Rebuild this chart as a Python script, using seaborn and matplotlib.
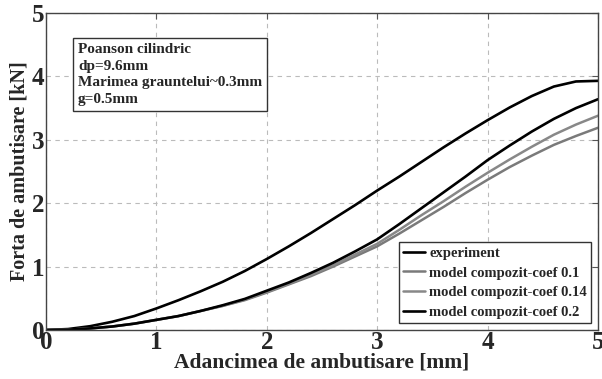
import numpy as np
import pandas as pd
import matplotlib
matplotlib.use("Agg")
import matplotlib.pyplot as plt
import seaborn as sns

# Punch displacement [mm]
depth = [0.0, 0.2, 0.4, 0.6, 0.8, 1.0, 1.2, 1.4, 1.6, 1.8, 2.0, 2.2, 2.4,
         2.6, 2.8, 3.0, 3.2, 3.4, 3.6, 3.8, 4.0, 4.2, 4.4, 4.6, 4.8, 5.0]

# Punch force [kN]
experiment = [0, 0.015, 0.06, 0.13, 0.22, 0.34, 0.47, 0.61, 0.76, 0.93, 1.12,
              1.32, 1.53, 1.75, 1.97, 2.20, 2.42, 2.65, 2.88, 3.10, 3.31,
              3.51, 3.69, 3.84, 3.92, 3.93]
coef_01 = [0, 0.005, 0.025, 0.055, 0.10, 0.16, 0.22, 0.30, 0.38, 0.47, 0.59,
           0.72, 0.85, 1.00, 1.16, 1.32, 1.52, 1.73, 1.94, 2.16, 2.37,
           2.57, 2.75, 2.92, 3.06, 3.19]
coef_014 = [0, 0.005, 0.025, 0.055, 0.10, 0.16, 0.22, 0.30, 0.38, 0.48, 0.60,
            0.73, 0.87, 1.02, 1.19, 1.36, 1.58, 1.81, 2.03, 2.26, 2.48,
            2.69, 2.89, 3.08, 3.24, 3.38]
coef_02 = [0, 0.005, 0.025, 0.055, 0.10, 0.16, 0.22, 0.30, 0.39, 0.49, 0.62,
           0.75, 0.90, 1.06, 1.24, 1.43, 1.67, 1.92, 2.17, 2.42, 2.68,
           2.91, 3.13, 3.33, 3.50, 3.64]

series_names = ["experiment", "model compozit-coef 0.1",
                "model compozit-coef 0.14", "model compozit-coef 0.2"]
series_values = [experiment, coef_01, coef_014, coef_02]

x_ticks = [0, 1, 2, 3, 4, 5]
y_ticks = [0, 1, 2, 3, 4, 5]

info_text = "Poanson cilindric\ndp=9.6mm\nMarimea grauntelui~0.3mm\ng=0.5mm"

df = pd.concat(
    [pd.DataFrame({"depth": depth, "force": vals, "series": name})
     for name, vals in zip(series_names, series_values)],
    ignore_index=True,
)

sns.set_style("white")
plt.rcParams["font.family"] = ["Liberation Serif", "DejaVu Serif"]
plt.rcParams["font.weight"] = "bold"

fig = plt.figure(figsize=(6.02, 3.79), dpi=100)
ax = fig.add_axes([0.0764, 0.1293, 0.917, 0.8364])

palette = {
    "experiment": "#000000",
    "model compozit-coef 0.1": "#7a7a7a",
    "model compozit-coef 0.14": "#888888",
    "model compozit-coef 0.2": "#000000",
}
widths = {
    "experiment": 1.9,
    "model compozit-coef 0.1": 1.8,
    "model compozit-coef 0.14": 1.8,
    "model compozit-coef 0.2": 1.9,
}

for name in series_names:
    sub = df[df["series"] == name]
    sns.lineplot(data=sub, x="depth", y="force", ax=ax, color=palette[name],
                 linewidth=widths[name], label=name, estimator=None, sort=True)

ax.set_xlim(0, 5)
ax.set_ylim(0, 5)
ax.set_xticks(x_ticks)
ax.set_yticks(y_ticks)
ax.set_xticklabels([str(t) for t in x_ticks], fontsize=18, fontweight="bold")
ax.set_yticklabels([str(t) for t in y_ticks], fontsize=18, fontweight="bold")
ax.tick_params(direction="in", length=4, width=0.8, top=True, right=True,
               pad=1, color="#555555")
ax.grid(True, linestyle=(0, (4, 4)), color="#bbbbbb", linewidth=0.8)

ax.set_xlabel("Adancimea de ambutisare [mm]", fontsize=15.5,
              fontweight="bold", labelpad=-1)
ax.set_ylabel("Forta de ambutisare [kN]", fontsize=14.5,
              fontweight="bold", labelpad=2)

for spine in ax.spines.values():
    spine.set_color("#444444")
    spine.set_linewidth(1.0)

leg = ax.legend(loc="lower right", frameon=True, fancybox=False,
                handlelength=1.5, handletextpad=0.3, borderpad=0.3,
                labelspacing=0.45, borderaxespad=0.45,
                prop={"weight": "bold", "size": 10.5})
leg.get_frame().set_edgecolor("#333333")
leg.get_frame().set_linewidth(1.0)
leg.get_frame().set_alpha(1)

ax.text(0.058, 0.905, info_text, transform=ax.transAxes, fontsize=11,
        fontweight="bold", va="top", ha="left", linespacing=1.35,
        bbox=dict(boxstyle="square,pad=0.35", facecolor="white",
                  edgecolor="#333333", linewidth=1.0))

fig.savefig("out.png", dpi=100)
